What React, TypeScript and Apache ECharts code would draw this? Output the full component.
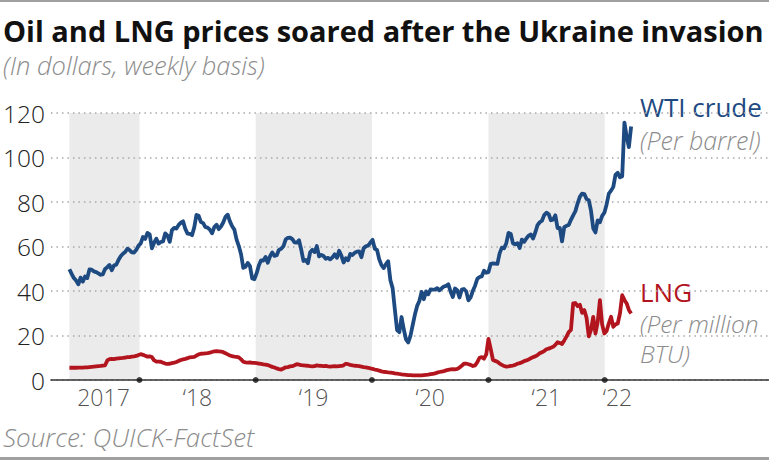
import React, { useEffect, useRef } from "react";
import * as echarts from "echarts";

// Weekly series, first week ending 2017-05-26
const START_DATE = "2017-05-26";

const wti: number[] = [
  // 2017
  49.8, 47.7, 45.8, 44.7, 43.0, 46.0, 44.2, 46.5, 45.8, 49.7,
  49.6, 48.8, 48.5, 47.9, 47.3, 47.5, 49.9, 50.7, 51.7, 49.3,
  51.5, 51.8, 53.9, 55.6, 56.7, 57.5, 59.0, 58.4, 57.4, 57.3,
  58.5,
  // 2018
  60.4, 61.4, 64.3, 63.4, 66.1, 65.5, 59.2, 61.7, 63.5, 61.3,
  62.0, 62.3, 65.9, 64.9, 62.1, 67.4, 68.4, 68.1, 69.7, 70.7,
  71.3, 67.9, 65.8, 65.7, 65.1, 68.6, 74.2, 73.8, 71.0, 70.5,
  68.7, 68.5, 67.6, 65.9, 68.7, 69.8, 67.8, 69.0, 70.8, 73.3,
  74.3, 71.3, 69.1, 67.6, 63.1, 60.2, 56.5, 50.4, 50.9, 52.6,
  51.2, 45.6,
  // 2019
  45.3, 48.0, 51.6, 53.8, 53.7, 55.3, 52.7, 55.6, 57.3, 55.8,
  56.1, 58.5, 59.0, 60.1, 63.1, 63.9, 64.0, 63.3, 61.9, 61.7,
  62.8, 58.6, 53.5, 54.0, 52.5, 57.4, 58.5, 57.5, 60.2, 55.6,
  56.2, 55.7, 54.5, 54.9, 54.2, 55.1, 56.5, 54.9, 58.1, 55.9,
  52.8, 54.7, 53.8, 56.7, 56.2, 57.2, 57.7, 57.8, 55.2, 59.2,
  60.1, 60.4, 61.7,
  // 2020
  63.0, 59.0, 58.5, 54.2, 51.6, 50.3, 52.1, 53.4, 44.8, 41.3,
  31.7, 22.4, 21.5, 28.3, 22.8, 18.3, 16.9, 19.8, 24.7, 29.4,
  33.3, 35.5, 39.6, 36.3, 39.8, 38.5, 40.7, 40.6, 40.6, 41.3,
  40.3, 41.2, 42.0, 42.3, 43.0, 39.8, 37.3, 41.1, 40.3, 37.1,
  40.6, 40.9, 39.9, 35.8, 37.1, 40.1, 42.4, 45.5, 46.3, 46.6,
  49.1, 48.2,
  // 2021
  48.5, 52.2, 52.4, 52.3, 52.2, 56.9, 59.5, 59.2, 61.5, 66.1,
  65.6, 61.4, 61.0, 61.5, 59.3, 63.1, 62.1, 63.6, 64.9, 65.4,
  63.6, 66.3, 69.6, 70.9, 71.6, 74.1, 75.2, 74.6, 71.8, 72.1,
  74.0, 68.3, 68.4, 62.3, 68.7, 69.3, 69.7, 72.0, 74.0, 75.9,
  79.4, 82.3, 83.8, 83.6, 81.3, 80.8, 76.1, 68.2, 66.3, 71.7,
  70.9, 73.8,
  // 2022
  75.2, 78.9, 83.8, 85.1, 86.8, 92.3, 93.1, 91.1, 91.6, 115.7,
  109.3, 104.7, 113.9,
];

const lng: number[] = [
  // 2017
  5.5, 5.5, 5.5, 5.5, 5.6, 5.6, 5.6, 5.7, 5.7, 5.8,
  5.9, 6.0, 6.1, 6.2, 6.3, 6.5, 6.6, 8.8, 9.4, 9.5,
  9.4, 9.6, 9.7, 9.8, 9.9, 10.1, 10.3, 10.3, 10.5, 10.6,
  10.8,
  // 2018
  11.2, 11.6, 11.3, 10.9, 10.5, 10.6, 10.3, 8.8, 8.3, 8.3,
  8.2, 7.8, 7.4, 7.2, 7.3, 7.6, 7.8, 8.1, 8.6, 9.0,
  9.3, 9.5, 9.8, 10.2, 10.3, 10.4, 11.0, 11.5, 11.8, 11.9,
  12.0, 12.1, 12.3, 12.6, 12.9, 13.0, 12.9, 12.8, 12.5, 12.0,
  11.5, 11.0, 10.7, 10.5, 10.4, 10.2, 9.3, 8.2, 7.9, 7.8,
  7.9, 7.7,
  // 2019
  7.7, 7.6, 7.4, 7.2, 7.0, 6.9, 6.7, 6.3, 5.9, 5.6,
  5.2, 4.9, 4.7, 5.2, 5.7, 5.8, 6.1, 6.2, 6.6, 7.1,
  6.9, 6.7, 6.6, 6.5, 6.4, 6.2, 6.1, 6.2, 6.6, 6.4,
  6.3, 6.2, 6.3, 6.1, 6.0, 6.1, 6.2, 6.1, 6.2, 6.3,
  6.6, 7.3, 7.1, 6.8, 6.6, 6.4, 6.3, 6.2, 6.0, 5.8,
  5.7, 5.5, 5.2,
  // 2020
  5.0, 4.7, 4.5, 4.2, 3.9, 3.7, 3.6, 3.4, 3.3, 3.2,
  3.0, 2.9, 2.7, 2.5, 2.4, 2.3, 2.2, 2.2, 2.1, 2.1,
  2.1, 2.1, 2.1, 2.2, 2.3, 2.4, 2.6, 2.8, 3.0, 3.3,
  3.6, 3.8, 4.0, 4.3, 4.6, 4.8, 4.9, 4.8, 5.0, 5.6,
  6.4, 7.3, 7.4, 7.1, 6.8, 6.3, 6.6, 8.0, 10.0, 10.3,
  9.6, 11.5,
  // 2021
  18.5, 14.0, 9.0, 8.6, 8.2, 7.4, 6.8, 6.3, 6.0, 6.1,
  6.3, 6.5, 6.8, 7.3, 7.6, 7.9, 8.5, 8.8, 9.2, 9.8,
  10.3, 10.6, 11.2, 12.0, 12.5, 13.0, 13.8, 14.1, 14.5, 14.9,
  15.8, 17.0, 16.6, 16.2, 17.8, 19.5, 21.5, 22.5, 34.4, 34.6,
  33.2, 33.8, 30.2, 31.4, 28.0, 19.6, 22.5, 28.4, 20.9, 26.0,
  35.9, 25.0,
  // 2022
  20.9, 22.0, 25.5, 28.4, 23.9, 25.0, 25.4, 30.0, 38.1, 36.0,
  34.4, 31.5, 29.9,
];

const yearStarts = ["2018-01-01", "2019-01-01", "2020-01-01", "2021-01-01", "2022-01-01"];
const shadedYears: [string, string][] = [
  [START_DATE, "2018-01-01"],
  ["2019-01-01", "2020-01-01"],
  ["2021-01-01", "2022-01-01"],
];
const yearLabels = ["2017", "\u201818", "\u201819", "\u201820", "\u201821", "\u201822"];
const yearLabelDates = ["2017-09-10", "2018-07-02", "2019-07-02", "2020-07-02", "2021-07-02", "2022-02-10"];
const yTicks = { min: 0, max: 120, interval: 20 };

const X_MIN = "2017-03-29";
const X_MAX = "2023-06-01";

const BLUE = "#1e4a82";
const RED = "#b3151f";
const GRAY = "#8c8c8c";
const FONT = "'Open Sans', Lato, 'Noto Sans', sans-serif";

function ts(d: string) {
  return new Date(d + "T00:00:00Z").getTime();
}

export default function App() {
  const ref = useRef<HTMLDivElement>(null);
  useEffect(() => {
    if (!ref.current) return;
    const chart = echarts.init(ref.current, undefined, { renderer: "svg" });
    const start = ts(START_DATE);
    const WEEK = 7 * 86400000;
    const weeks = wti.map((_, i) => start + i * WEEK);

    const gray = (text: string, left: number, top: number, fontSize: number) => ({
      type: "text", left, top,
      style: { text, fontSize, fontStyle: "italic", fontWeight: 300, fontFamily: FONT, fill: GRAY },
    });

    chart.setOption({
      animation: false,
      backgroundColor: "#ffffff",
      grid: { left: 48, right: 0, top: 113, bottom: 80, containLabel: false },
      xAxis: {
        type: "time",
        min: ts(X_MIN),
        max: ts(X_MAX),
        z: 2,
        axisLine: { show: true, lineStyle: { color: "#333", width: 1.5 } },
        axisTick: { show: false },
        axisLabel: { show: false },
        splitLine: { show: false },
      },
      yAxis: {
        type: "value",
        min: yTicks.min,
        max: yTicks.max,
        interval: yTicks.interval,
        z: 2,
        axisLine: { show: false },
        axisTick: { show: false },
        axisLabel: {
          color: "#222",
          fontSize: 24.5,
          fontFamily: FONT,
          fontWeight: 300,
          margin: 6,
        },
        splitLine: {
          show: true,
          lineStyle: { color: "#a8a8a8", width: 1.5, type: [1.5, 4] },
        },
      },
      graphic: [
        { type: "rect", shape: { x: 0, y: 0, width: 769, height: 2 }, style: { fill: "#a0a0a0" } },
        { type: "rect", shape: { x: 0, y: 457, width: 769, height: 3 }, style: { fill: "#a0a0a0" } },
        {
          type: "text", left: 3, top: 16,
          style: { text: "Oil and LNG prices soared after the Ukraine invasion", fontSize: 29, fontWeight: "bold", fontFamily: FONT, fill: "#111" },
        },
        gray("(In dollars, weekly basis)", 3, 52, 25.5),
        gray("Source: QUICK-FactSet", 3, 424, 26),
        {
          type: "text", left: 640, top: 94,
          style: { text: "WTI crude", fontSize: 26, fontFamily: FONT, fill: BLUE },
        },
        gray("(Per barrel)", 640, 127, 25),
        {
          type: "text", left: 640, top: 279,
          style: { text: "LNG", fontSize: 26, fontFamily: FONT, fill: RED },
        },
        gray("(Per million", 640, 311, 24.5),
        gray("BTU)", 640, 341, 24.5),
      ],
      series: [
        {
          name: "bands",
          type: "line",
          data: [],
          z: 1,
          silent: true,
          markArea: {
            silent: true,
            itemStyle: { color: "#ebebeb" },
            data: shadedYears.map(([a, b]) => [{ xAxis: ts(a) }, { xAxis: ts(b) }]),
          },
        },
        {
          name: "LNG",
          type: "line",
          data: weeks.map((t, i) => [t, lng[i]]),
          symbol: "none",
          z: 3,
          lineStyle: { color: RED, width: 3.8, join: "round" },
        },
        {
          name: "WTI crude",
          type: "line",
          data: weeks.map((t, i) => [t, wti[i]]),
          symbol: "none",
          z: 3,
          lineStyle: { color: BLUE, width: 3.8, join: "round" },
        },
        {
          name: "yearTicks",
          type: "scatter",
          data: yearStarts.map((d) => [ts(d), 0]),
          symbol: "circle",
          symbolSize: 6,
          itemStyle: { color: "#111" },
          z: 4,
          silent: true,
        },
        {
          name: "yearLabels",
          type: "scatter",
          data: yearLabelDates.map((d) => [ts(d), 0]),
          symbolSize: 0,
          z: 4,
          silent: true,
          label: {
            show: true,
            position: "bottom",
            distance: 5,
            formatter: (p: any) => yearLabels[p.dataIndex],
            fontSize: 23,
            fontWeight: 300,
            fontFamily: FONT,
            color: "#222",
          },
        },
      ],
    });
    return () => chart.dispose();
  }, []);

  return (
    <div
      ref={ref}
      style={{ position: "absolute", left: 0, top: 0, width: 769, height: 460, background: "#fff" }}
    />
  );
}
